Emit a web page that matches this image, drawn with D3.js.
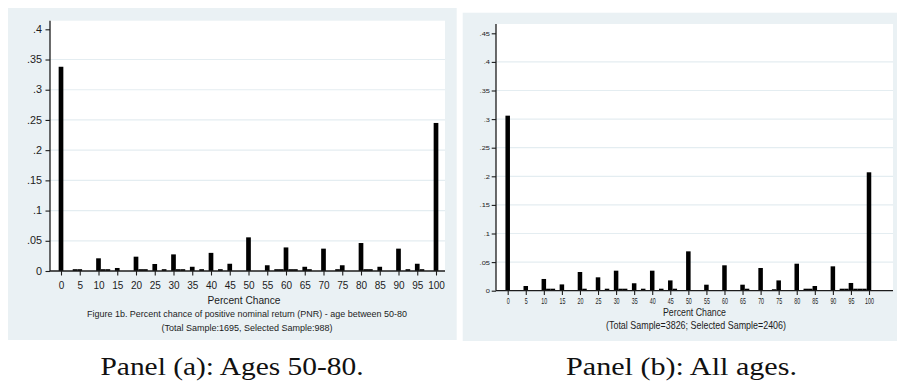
<!DOCTYPE html>
<html>
<head>
<meta charset="utf-8">
<script src="https://cdn.jsdelivr.net/npm/d3@7"></script>
<style>
  html, body { margin: 0; padding: 0; background: #fff; }
  svg { display: block; }
</style>
</head>
<body>
<svg id="chart" width="897" height="381"></svg>
<script>
// ---- data -------------------------------------------------------------
// Histogram bins are 1.25 percentage points wide, listed by their centre.
const binWidth = 1.25;
const percentTicks = [0, 5, 10, 15, 20, 25, 30, 35, 40, 45, 50, 55, 60, 65, 70, 75, 80, 85, 90, 95, 100];

// Panel (a): ages 50-80
const binsA = [0, 3.75, 5, 10, 11.25, 12.5, 15, 20, 21.25, 22.5, 25, 27.5, 30, 31.25, 32.5, 35,
               37.5, 40, 42.5, 45, 50, 55, 57.5, 58.75, 60, 61.25, 62.5, 65, 66.25, 70, 73.75, 75,
               80, 81.25, 82.5, 85, 90, 92.5, 95, 96.25, 100];
const fractionA = [0.338, 0.003, 0.003, 0.021, 0.003, 0.003, 0.005, 0.0237, 0.003, 0.003, 0.0116, 0.003, 0.0275, 0.003, 0.003, 0.007,
                   0.003, 0.030, 0.003, 0.012, 0.0557, 0.0095, 0.003, 0.003, 0.039, 0.003, 0.003, 0.007, 0.003, 0.037, 0.003, 0.0095,
                   0.0463, 0.003, 0.003, 0.007, 0.037, 0.003, 0.012, 0.003, 0.245];
const yTicksA = [0, 0.05, 0.1, 0.15, 0.2, 0.25, 0.3, 0.35, 0.4];

// Panel (b): all ages
const binsB = [0, 5, 10, 11.25, 12.5, 15, 20, 21.25, 25, 27.5, 30, 31.25, 32.5, 35, 37.5, 40, 42.5,
               45, 46.25, 50, 55, 60, 65, 66.25, 70, 73.75, 75, 80, 82.5, 83.75, 85, 90, 92.5, 93.75,
               95, 96.25, 97.5, 98.75, 100];
const fractionB = [0.306, 0.0082, 0.0205, 0.0035, 0.0035, 0.011, 0.0327, 0.0035, 0.0234, 0.0035, 0.035, 0.0035, 0.0035, 0.013, 0.0035, 0.035, 0.0035,
                   0.018, 0.0035, 0.0688, 0.0105, 0.0444, 0.0105, 0.0035, 0.0397, 0.0025, 0.018, 0.0472, 0.0035, 0.0035, 0.0082, 0.0426, 0.0035, 0.0035,
                   0.0135, 0.0035, 0.0035, 0.0035, 0.207];
const yTicksB = [0, 0.05, 0.1, 0.15, 0.2, 0.25, 0.3, 0.35, 0.4, 0.45];

// ---- text ------------------------------------------------------------
const xTitle = "Percent Chance";
const noteA1 = "Figure 1b. Percent chance of positive nominal return (PNR) - age between 50-80";
const noteA2 = "(Total Sample:1695, Selected Sample:988)";
const noteB1 = "(Total Sample=3826; Selected Sample=2406)";
const captionA = "Panel (a): Ages 50-80.";
const captionB = "Panel (b): All ages.";

// ---- drawing ---------------------------------------------------------
const svg = d3.select("#chart");
const BG = "#eaf1f4";
const GRID = "#e4edf1";
const INK = "#1c1c1c";

// Stata-style decimal labels: "0", ".05", ".1", ...
const fmtFrac = d => d === 0 ? "0" : d3.format(".2~f")(d).replace(/^0/, "");

function squeeze(sel, factor) {
  sel.each(function () {
    const w = this.getComputedTextLength();
    d3.select(this).attr("textLength", w * factor).attr("lengthAdjust", "spacingAndGlyphs");
  });
}

function drawPanel(cfg, bins, values, yTicks) {
  const g = svg.append("g");
  const p = cfg.plot;

  g.append("rect")
    .attr("x", cfg.bg[0]).attr("y", cfg.bg[1])
    .attr("width", cfg.bg[2]).attr("height", cfg.bg[3])
    .attr("fill", BG);

  g.append("rect")
    .attr("x", p.left).attr("y", p.top)
    .attr("width", p.right - p.left).attr("height", p.bottom - p.top)
    .attr("fill", "#fff");

  const x = d3.scaleLinear().domain([0, 100]).range(cfg.xRange);
  const y = d3.scaleLinear().domain([0, cfg.yMax]).range([p.bottom, cfg.yTopPx]);

  // horizontal grid lines
  g.append("g").selectAll("line")
    .data(yTicks.filter(t => t > 0 && t < cfg.yMax))
    .join("line")
    .attr("x1", p.left).attr("x2", p.right)
    .attr("y1", d => y(d)).attr("y2", d => y(d))
    .attr("stroke", GRID).attr("stroke-width", 1.2);

  // bars
  g.append("g").selectAll("rect")
    .data(bins.map((c, i) => ({ c, v: values[i] })))
    .join("rect")
    .attr("x", d => x(d.c - binWidth / 2))
    .attr("width", d => x(d.c + binWidth / 2) - x(d.c - binWidth / 2))
    .attr("y", d => y(d.v))
    .attr("height", d => y(0) - y(d.v))
    .attr("fill", "#000");

  // y axis
  const ya = g.append("g")
    .attr("transform", `translate(${p.left},0)`)
    .call(d3.axisLeft(y).tickValues(yTicks).tickFormat(fmtFrac)
      .tickSize(cfg.tick).tickPadding(cfg.yPad));
  ya.select(".domain").remove();
  ya.selectAll(".tick line").attr("stroke", INK).attr("stroke-width", 1.1);
  ya.selectAll("text").attr("font-family", "Liberation Sans, Arial, sans-serif")
    .attr("font-size", cfg.yFont).attr("fill", INK);
  squeeze(ya.selectAll("text"), cfg.ySqueeze);
  g.append("line")
    .attr("x1", p.left).attr("x2", p.left)
    .attr("y1", p.top).attr("y2", p.bottom)
    .attr("stroke", INK).attr("stroke-width", 1.3);

  // x axis
  const xa = g.append("g")
    .attr("transform", `translate(0,${p.bottom})`)
    .call(d3.axisBottom(x).tickValues(percentTicks)
      .tickSize(cfg.tick).tickPadding(cfg.xPad));
  xa.select(".domain").remove();
  xa.selectAll(".tick line").attr("stroke", INK).attr("stroke-width", 1.1);
  xa.selectAll("text").attr("font-family", "Liberation Sans, Arial, sans-serif")
    .attr("font-size", cfg.xFont).attr("fill", INK);
  squeeze(xa.selectAll("text"), cfg.xSqueeze);
  g.append("line")
    .attr("x1", p.left).attr("x2", p.right)
    .attr("y1", p.bottom).attr("y2", p.bottom)
    .attr("stroke", INK).attr("stroke-width", 1.3);

  // titles and notes under the axis
  cfg.notes.forEach(n => {
    g.append("text")
      .attr("x", n.x).attr("y", n.y)
      .attr("text-anchor", "middle")
      .attr("font-family", "Liberation Sans, Arial, sans-serif")
      .attr("font-size", n.size)
      .attr("fill", INK)
      .attr("textLength", n.w).attr("lengthAdjust", "spacingAndGlyphs")
      .text(n.text);
  });
}

drawPanel({
  bg: [8, 8, 448.7, 332],
  plot: { left: 50, right: 445, top: 20.7, bottom: 271 },
  xRange: [61, 436], yMax: 0.4, yTopPx: 29.3,
  tick: 4.5, yPad: 3.5, xPad: 6.5,
  yFont: 10, xFont: 10, ySqueeze: 1.08, xSqueeze: 1.0,
  notes: [
    { text: xTitle, x: 244, y: 304, size: 10, w: 73 },
    { text: noteA1, x: 247, y: 316.5, size: 8.5, w: 320 },
    { text: noteA2, x: 247, y: 331, size: 8.5, w: 171 }
  ]
}, binsA, fractionA, yTicksA);

drawPanel({
  bg: [462.7, 12.7, 434.3, 328.3],
  plot: { left: 496, right: 893, top: 24, bottom: 290.7 },
  xRange: [507.7, 869], yMax: 0.45, yTopPx: 33.3,
  tick: 4.3, yPad: 1.8, xPad: 3.2,
  yFont: 6.2, xFont: 8.2, ySqueeze: 1.2, xSqueeze: 0.65,
  notes: [
    { text: xTitle, x: 694.5, y: 315.5, size: 10.5, w: 63 },
    { text: noteB1, x: 696, y: 328.5, size: 11, w: 180 }
  ]
}, binsB, fractionB, yTicksB);

// panel captions below the two graphs
[[captionA, 232, 263], [captionB, 681.5, 231]].forEach(([t, cx, w]) => {
  svg.append("text")
    .attr("x", cx).attr("y", 375)
    .attr("text-anchor", "middle")
    .attr("font-family", "Liberation Serif, 'Times New Roman', serif")
    .attr("font-size", 25)
    .attr("fill", "#111")
    .attr("textLength", w).attr("lengthAdjust", "spacingAndGlyphs")
    .text(t);
});
</script>
</body>
</html>
